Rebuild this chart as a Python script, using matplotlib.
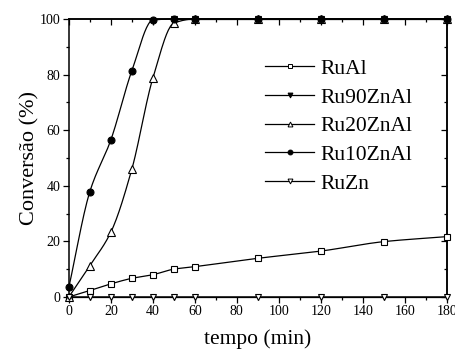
import numpy as np
import matplotlib.pyplot as plt
from matplotlib.lines import Line2D
from matplotlib.ticker import MultipleLocator

plt.rcParams['font.family'] = ['Liberation Serif', 'DejaVu Serif']

# dados
tempo = [0, 10, 20, 30, 40, 50, 60, 90, 120, 150, 180]
ruAl = [0, 2.3, 4.7, 6.7, 8.0, 10.0, 10.9, 13.9, 16.5, 19.9, 21.7]
ru20ZnAl = [0, 11.3, 23.3, 46.0, 78.7, 98.5, 100, 100, 100, 100, 100]
ru10ZnAl = [3.5, 37.9, 56.5, 81.4, 99.6, 100, 100, 100, 100, 100, 100]
ruZn = [0, 0, 0, 0, 0, 0, 0, 0, 0, 0, 0]
tempo90 = [50, 60, 90, 120, 150, 180]
ru90ZnAl = [100, 100, 100, 100, 100, 100]


def suave(x, y, n=400):
    # curva cubica monotona (Fritsch-Carlson) so para desenhar a linha
    x = np.asarray(x, float)
    y = np.asarray(y, float)
    h = np.diff(x)
    d = np.diff(y) / h
    m = np.zeros_like(y)
    m[0] = d[0]
    m[-1] = d[-1]
    for i in range(1, len(x) - 1):
        if d[i-1] * d[i] <= 0:
            m[i] = 0
        else:
            w1 = 2*h[i] + h[i-1]
            w2 = h[i] + 2*h[i-1]
            m[i] = (w1 + w2) / (w1/d[i-1] + w2/d[i])
    xs = np.linspace(x[0], x[-1], n)
    k = np.clip(np.searchsorted(x, xs) - 1, 0, len(x) - 2)
    t = (xs - x[k]) / h[k]
    h00 = 2*t**3 - 3*t**2 + 1
    h10 = t**3 - 2*t**2 + t
    h01 = -2*t**3 + 3*t**2
    h11 = t**3 - t**2
    ys = h00*y[k] + h10*h[k]*m[k] + h01*y[k+1] + h11*h[k]*m[k+1]
    return xs, ys


fig = plt.figure(figsize=(4.56, 3.51), dpi=100)
ax = fig.add_axes([0.151, 0.154, 0.829, 0.792])

series = [
    (tempo, ruAl, 's', 'white', 4.5),
    (tempo90, ru90ZnAl, 'v', 'black', 5),
    (tempo, ru20ZnAl, '^', 'white', 5.5),
    (tempo, ru10ZnAl, 'o', 'black', 5),
    (tempo, ruZn, 'v', 'white', 5),
]
for x, y, mk, fc, ms in series:
    xs, ys = suave(x, y)
    ax.plot(xs, ys, color='black', lw=0.9, clip_on=False)
    ax.plot(x, y, ls='none', marker=mk, mfc=fc, mec='black', mew=0.8,
            ms=ms, clip_on=False, zorder=3)

nomes = ['RuAl', 'Ru90ZnAl', 'Ru20ZnAl', 'Ru10ZnAl', 'RuZn']
handles = [Line2D([], [], color='black', lw=0.9, marker=s[2], mfc=s[3],
                  mec='black', mew=0.7, ms=3.5) for s in series]
ax.legend(handles, nomes, loc='upper left', bbox_to_anchor=(0.49, 0.895),
          frameon=False, fontsize=15.5, handlelength=2.3, handletextpad=0.3,
          labelspacing=0.4, borderpad=0)

ax.set_xlim(0, 180)
ax.set_ylim(0, 100)
ax.xaxis.set_major_locator(MultipleLocator(20))
ax.xaxis.set_minor_locator(MultipleLocator(10))
ax.yaxis.set_major_locator(MultipleLocator(20))
ax.yaxis.set_minor_locator(MultipleLocator(10))
ax.tick_params(which='both', direction='out', top=False, right=False,
               labelsize=10, width=0.9, pad=2)
ax.tick_params(which='major', length=4)
ax.tick_params(which='minor', length=2.5)
# marcas espelhadas para dentro no topo e na direita
ax2 = ax.secondary_xaxis('top')
ax2.xaxis.set_major_locator(MultipleLocator(20))
ax2.xaxis.set_minor_locator(MultipleLocator(10))
ax2.tick_params(which='both', direction='in', labeltop=False, width=0.9)
ax2.tick_params(which='major', length=4)
ax2.tick_params(which='minor', length=2.5)
ay2 = ax.secondary_yaxis('right')
ay2.yaxis.set_major_locator(MultipleLocator(20))
ay2.yaxis.set_minor_locator(MultipleLocator(10))
ay2.tick_params(which='both', direction='in', labelright=False, width=0.9)
ay2.tick_params(which='major', length=4)
ay2.tick_params(which='minor', length=2.5)
for s in ax.spines.values():
    s.set_linewidth(1.1)
ax2.spines['top'].set_linewidth(1.1)
ay2.spines['right'].set_linewidth(1.1)

ax.set_xlabel('tempo (min)', fontsize=15.5, labelpad=8)
ax.set_ylabel('Conversão (%)', fontsize=16, labelpad=0)

fig.savefig('out.png', dpi=100)
